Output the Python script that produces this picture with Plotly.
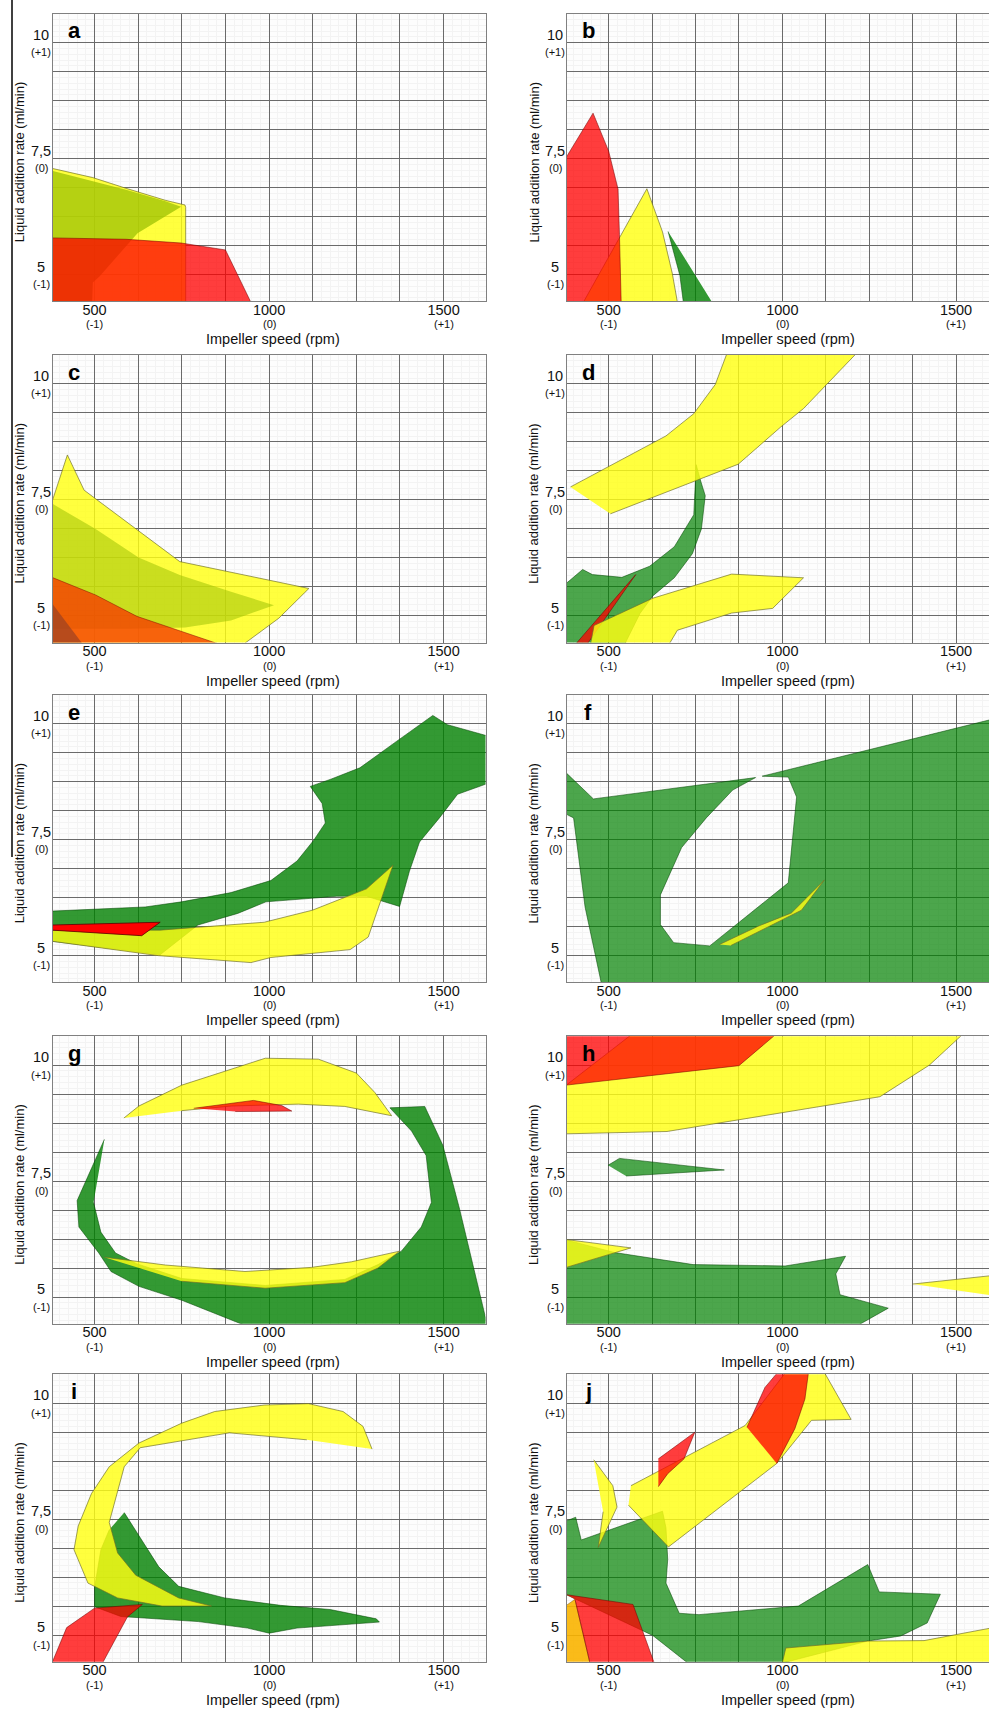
import plotly.graph_objects as go

# ---------------- axis definitions ----------------
x_major_vals = [500, 1000, 1500]
x_major_text = ["500", "1000", "1500"]
x_coded_text = ["(-1)", "(0)", "(+1)"]
y_major_vals = [5, 7.5, 10]
y_major_text = ["5", "7,5", "10"]
y_coded_text = ["(-1)", "(0)", "(+1)"]
x_grid_vals = [500, 625, 750, 875, 1000, 1125, 1250, 1375, 1500]
y_grid_vals = [5, 5.625, 6.25, 6.875, 7.5, 8.125, 8.75, 9.375, 10]
x_title = "Impeller speed (rpm)"
y_title = "Liquid addition rate (ml/min)"
panel_letters = ["a", "b", "c", "d", "e", "f", "g", "h", "i", "j"]

# ---------------- data (rpm, ml/min) ----------------
# panel a
a_yellow_rpm = [378, 495, 590, 703, 759, 761, 761, 378]
a_yellow_rate = [7.29, 7.09, 6.86, 6.60, 6.50, 6.45, 4.4, 4.4]
a_green_rpm = [378, 590, 703, 748, 623, 514, 495, 493, 378]
a_green_rate = [7.24, 6.83, 6.58, 6.46, 5.89, 4.96, 4.83, 4.4, 4.4]
a_red_rpm = [378, 590, 748, 816, 875, 948, 378]
a_red_rate = [5.79, 5.76, 5.68, 5.60, 5.53, 4.4, 4.4]
# panel b
b_yellow_rpm = [427, 610, 655, 683, 698]
b_yellow_rate = [4.4, 6.85, 5.92, 5.03, 4.4]
b_green_rpm = [671, 705, 715, 798]
b_green_rate = [5.93, 4.98, 4.4, 4.4]
b_red_rpm = [378, 455, 500, 527, 531, 536, 378]
b_red_rate = [7.53, 8.48, 7.66, 6.84, 5.86, 4.4, 4.4]
# panel c
c_yellow_rpm = [378, 422, 470, 744, 1114, 1028, 929, 378]
c_yellow_rate = [7.46, 8.47, 7.71, 6.17, 5.59, 4.95, 4.4, 4.4]
c_green_rpm = [378, 503, 626, 744, 891, 1014, 891, 759, 600, 378]
c_green_rate = [7.42, 6.875, 6.26, 5.88, 5.52, 5.23, 4.90, 4.75, 4.72, 4.72]
c_red_rpm = [378, 503, 621, 853, 378]
c_red_rate = [5.83, 5.45, 4.99, 4.4, 4.4]
c_brown_rpm = [378, 465, 378]
c_brown_rate = [5.27, 4.4, 4.4]
# panel d
d_green_rpm = [378, 425, 453, 538, 618, 689, 745, 752, 764, 778, 767, 741, 689, 627, 590, 547, 378]
d_green_rate = [5.70, 6.00, 5.89, 5.83, 6.07, 6.49, 7.18, 8.26, 7.93, 7.59, 6.875, 6.34, 5.82, 5.43, 5.05, 4.4, 4.4]
d_red_rpm = [406, 578, 439]
d_red_rate = [4.4, 5.89, 4.4]
d_yellow_up_rpm = [390, 665, 745, 807, 840, 1212, 1061, 995, 873, 505]
d_yellow_up_rate = [7.78, 8.88, 9.36, 9.99, 10.65, 10.65, 9.47, 9.07, 8.27, 7.20]
d_yellow_low_rpm = [448, 458, 627, 854, 1061, 972, 854, 698, 675]
d_yellow_low_rate = [4.4, 4.79, 5.38, 5.90, 5.82, 5.16, 5.06, 4.69, 4.4]
# panel e
e_green_rpm = [378, 645, 749, 891, 1005, 1080, 1128, 1161, 1152, 1118, 1175, 1260, 1365, 1469, 1511,
               1625, 1625, 1540, 1488, 1431, 1402, 1374, 1279, 1194, 991, 910, 796, 688, 378]
e_green_rate = [5.96, 6.05, 6.16, 6.36, 6.62, 7.04, 7.49, 7.86, 8.28, 8.65, 8.80, 9.05, 9.62, 10.18, 9.98,
                9.74, 8.71, 8.48, 7.97, 7.45, 6.82, 6.06, 6.28, 6.28, 6.16, 5.91, 5.66, 5.02, 5.31]
e_yellow_rpm = [378, 688, 986, 1124, 1279, 1355, 1284, 1232, 1005, 948, 683, 378]
e_yellow_rate = [5.55, 5.55, 5.72, 5.98, 6.44, 6.95, 5.40, 5.13, 4.96, 4.85, 5.00, 5.31]
e_red_rpm = [378, 688, 635, 378]
e_red_rate = [5.66, 5.72, 5.43, 5.55]
# panel f
f_green_rpm = [378, 456, 923, 857, 781, 710, 649, 649, 687, 791, 1017, 1041, 1017, 942, 1600, 1600, 479, 432, 399, 378]
f_green_rate = [8.94, 8.38, 8.84, 8.57, 7.97, 7.33, 6.31, 5.67, 5.28, 5.21, 6.57, 8.42, 8.85, 8.87, 10.09, 4.4, 4.4, 6.05, 7.97, 8.05]
f_yellow_rpm = [819, 932, 1026, 1121, 1055, 852]
f_yellow_rate = [5.24, 5.64, 5.92, 6.63, 5.98, 5.22]
# panel g
g_green_rpm = [528, 450, 455, 512, 547, 627, 750, 927, 1625, 1546, 1498, 1446, 1346, 1408, 1450, 1465, 1436,
               1379, 1312, 1217, 989, 750, 620, 560, 518, 497]
g_green_rate = [8.40, 7.08, 6.51, 5.95, 5.55, 5.23, 4.93, 4.4, 4.4, 6.89, 8.27, 9.11, 9.08, 8.58, 8.05, 7.04, 6.51,
                5.99, 5.70, 5.38, 5.25, 5.40, 5.72, 5.95, 6.40, 7.04]
g_yellow_top_rpm = [584, 627, 750, 989, 1141, 1250, 1303, 1351, 1217, 1084, 893, 750]
g_yellow_top_rate = [8.86, 9.12, 9.57, 10.15, 10.13, 9.83, 9.41, 8.91, 9.11, 9.16, 9.12, 9.02]
g_yellow_low_rpm = [528, 703, 931, 1122, 1236, 1374, 1312, 1217, 989, 750]
g_yellow_low_rate = [5.86, 5.69, 5.55, 5.64, 5.76, 5.99, 5.625, 5.31, 5.19, 5.34]
g_red_rpm = [784, 955, 1036, 1065, 903]
g_red_rate = [9.07, 9.24, 9.13, 9.01, 9.00]
# panel h
h_yellow_rpm = [378, 564, 1517, 1423, 1281, 998, 668, 378]
h_yellow_rate = [9.57, 10.65, 10.65, 10.0, 9.32, 8.98, 8.57, 8.52]
h_red_rpm = [378, 875, 979, 378]
h_red_rate = [9.57, 9.99, 10.65, 10.65]
h_green1_rpm = [498, 531, 833, 550]
h_green1_rate = [7.84, 7.99, 7.74, 7.61]
h_green2_rpm = [378, 517, 743, 1008, 1182, 1154, 1166, 1305, 1220, 378]
h_green2_rate = [6.23, 5.96, 5.70, 5.67, 5.88, 5.50, 5.05, 4.76, 4.4, 4.4]
h_yellow2_rpm = [378, 564, 378]
h_yellow2_rate = [6.24, 6.06, 5.64]
h_yellow3_rpm = [1375, 1600, 1600]
h_yellow3_rate = [5.28, 5.46, 5.04]
# panel i
i_green_rpm = [585, 684, 741, 873, 1033, 1175, 1307, 1316, 1080, 1000, 938, 797, 575, 500, 500, 518, 542]
i_green_rate = [7.64, 6.47, 6.05, 5.80, 5.64, 5.55, 5.35, 5.28, 5.15, 5.04, 5.15, 5.29, 5.40, 5.61, 6.03, 6.84, 7.27]
i_yellow_rpm = [1295, 1269, 1212, 1113, 986, 844, 750, 627, 542, 491, 453, 441, 481, 566, 693, 835,
                741, 618, 566, 542, 585, 631, 886, 1108]
i_yellow_rate = [9.01, 9.50, 9.82, 9.99, 9.96, 9.82, 9.57, 9.14, 8.63, 8.05, 7.35, 6.84, 6.12, 5.80, 5.625, 5.625,
                 5.80, 6.29, 6.77, 7.43, 8.63, 9.04, 9.36, 9.21]
i_red_rpm = [378, 420, 500, 637, 594, 523]
i_red_rate = [4.4, 5.16, 5.58, 5.66, 5.39, 4.4]
# panel j
j_green_rpm = [378, 405, 421, 655, 665, 670, 665, 703, 760, 1046, 1246, 1279, 1455, 1417, 1341, 1246, 1002, 727, 627, 378]
j_green_rate = [7.46, 7.54, 7.05, 7.67, 7.31, 6.63, 6.12, 5.47, 5.44, 5.625, 6.52, 5.93, 5.88, 5.26, 4.98, 4.87, 4.4, 4.4, 4.99, 5.87]
j_yellow_big_rpm = [564, 893, 1008, 1122, 1198, 1084, 984, 672, 557]
j_yellow_big_rate = [8.22, 9.52, 10.65, 10.65, 9.65, 9.63, 8.70, 6.90, 7.80]
j_red_top_rpm = [898, 931, 950, 985, 1075, 1065, 1036, 984]
j_red_top_rate = [9.48, 10.02, 10.34, 10.65, 10.65, 10.09, 9.45, 8.70]
j_red_small_rpm = [643, 748, 717, 670, 643]
j_red_small_rate = [8.80, 9.375, 8.80, 8.48, 8.20]
j_yellow_small_rpm = [457, 512, 524, 470, 484]
j_yellow_small_rate = [8.78, 8.22, 7.76, 6.89, 7.66]
j_yellow_br_rpm = [1000, 1010, 1246, 1408, 1600, 1600]
j_yellow_br_rate = [4.4, 4.72, 4.87, 4.88, 5.15, 4.4]
j_orange_rpm = [378, 403, 446, 378]
j_orange_rate = [5.64, 5.77, 4.4, 4.4]
j_red_low_rpm = [378, 570, 631, 446, 403]
j_red_low_rate = [5.87, 5.66, 4.4, 4.4, 5.77]

# ---------------- styles ----------------
STYLES = {
    "yellow": ("rgba(255,255,20,0.82)", "rgba(110,110,40,0.75)"),
    "green": ("rgba(0,128,0,0.80)", "rgba(0,70,0,0.6)"),
    "green_l": ("rgba(0,128,0,0.70)", "rgba(0,70,0,0.6)"),
    "red": ("rgba(255,0,0,0.76)", "rgba(120,0,0,0.6)"),
    "red_solid": ("rgb(255,0,0)", "rgba(90,0,0,0.9)"),
    "gy_a": ("rgba(150,190,0,0.70)", "rgba(0,0,0,0)"),
    "gy_c": ("rgba(150,190,0,0.50)", "rgba(0,0,0,0)"),
    "red_c": ("rgba(245,60,0,0.80)", "rgba(120,0,0,0.5)"),
    "brown": ("rgba(140,60,40,0.6)", "rgba(0,0,0,0)"),
    "orange": ("rgba(250,180,0,0.9)", "rgba(120,80,0,0.5)"),
}

panels = [
    [(a_yellow_rpm, a_yellow_rate, "yellow"), (a_green_rpm, a_green_rate, "gy_a"), (a_red_rpm, a_red_rate, "red")],
    [(b_yellow_rpm, b_yellow_rate, "yellow"), (b_green_rpm, b_green_rate, "green"), (b_red_rpm, b_red_rate, "red")],
    [(c_yellow_rpm, c_yellow_rate, "yellow"), (c_green_rpm, c_green_rate, "gy_c"), (c_red_rpm, c_red_rate, "red_c"),
     (c_brown_rpm, c_brown_rate, "brown")],
    [(d_green_rpm, d_green_rate, "green_l"), (d_red_rpm, d_red_rate, "red"), (d_yellow_up_rpm, d_yellow_up_rate, "yellow"),
     (d_yellow_low_rpm, d_yellow_low_rate, "yellow")],
    [(e_green_rpm, e_green_rate, "green"), (e_yellow_rpm, e_yellow_rate, "yellow"), (e_red_rpm, e_red_rate, "red_solid")],
    [(f_green_rpm, f_green_rate, "green_l"), (f_yellow_rpm, f_yellow_rate, "yellow")],
    [(g_green_rpm, g_green_rate, "green"), (g_yellow_top_rpm, g_yellow_top_rate, "yellow"),
     (g_yellow_low_rpm, g_yellow_low_rate, "yellow"), (g_red_rpm, g_red_rate, "red")],
    [(h_yellow_rpm, h_yellow_rate, "yellow"), (h_red_rpm, h_red_rate, "red"), (h_green1_rpm, h_green1_rate, "green_l"),
     (h_green2_rpm, h_green2_rate, "green_l"), (h_yellow2_rpm, h_yellow2_rate, "yellow"), (h_yellow3_rpm, h_yellow3_rate, "yellow")],
    [(i_green_rpm, i_green_rate, "green"), (i_yellow_rpm, i_yellow_rate, "yellow"), (i_red_rpm, i_red_rate, "red")],
    [(j_green_rpm, j_green_rate, "green_l"), (j_yellow_big_rpm, j_yellow_big_rate, "yellow"),
     (j_red_top_rpm, j_red_top_rate, "red"), (j_red_small_rpm, j_red_small_rate, "red"),
     (j_yellow_small_rpm, j_yellow_small_rate, "yellow"), (j_yellow_br_rpm, j_yellow_br_rate, "yellow"),
     (j_orange_rpm, j_orange_rate, "orange"), (j_red_low_rpm, j_red_low_rate, "red")],
]

# ---------------- layout geometry (pixels) ----------------
W, H = 989, 1709
col_x = [(52.7, 485.5), (567.0, 989.0)]
col_range = [[380, 1620], [380, 1595]]
col_title_shift = [4, 6]
row_top = [13.7, 355.0, 694.8, 1036.2, 1374.2]
plot_h = 287.5
y_range = [4.425, 10.625]
FONT = "Liberation Sans, Arial, sans-serif"

fig = go.Figure()
layout = dict(width=W, height=H, margin=dict(l=0, r=0, t=0, b=0),
              paper_bgcolor="white", plot_bgcolor="#fdfdfd", showlegend=False,
              font=dict(family=FONT, color="#111"))

x_ticktext = [x_major_text[x_major_vals.index(v)] if v in x_major_vals else "" for v in x_grid_vals]


def txt(**kw):
    d = dict(showarrow=False, font=dict(size=kw.pop("size", 11), family=FONT, color="#111"))
    d.update(kw)
    return d


annotations = []
for p in range(10):
    r, c = p // 2, p % 2
    n = "" if p == 0 else str(p + 1)
    x0, x1 = col_x[c]
    top = row_top[r]
    bot = top + plot_h
    xd = [x0 / W, min(x1 / W, 1.0)]
    yd = [1 - bot / H, 1 - top / H]
    layout["xaxis" + n] = dict(
        domain=xd, anchor="y" + n, range=col_range[c], tickmode="array",
        tickvals=x_grid_vals, ticktext=x_ticktext, showgrid=True, gridcolor="#6a6a6a", gridwidth=1,
        showline=True, linecolor="#808080", linewidth=1, mirror=True, ticks="", zeroline=False,
        tickfont=dict(size=14.5, color="#111"), ticklabelstandoff=-5,
        minor=dict(tickmode="linear", tick0=0, dtick=25, showgrid=True, gridcolor="#f3f3f3", gridwidth=1),
    )
    layout["yaxis" + n] = dict(
        domain=yd, anchor="x" + n, range=y_range, tickmode="array",
        tickvals=y_grid_vals, showticklabels=False, showgrid=True, gridcolor="#6a6a6a", gridwidth=1,
        showline=True, linecolor="#808080", linewidth=1, mirror=(c == 0), ticks="", zeroline=False,
        minor=dict(tickmode="linear", tick0=0, dtick=0.125, showgrid=True, gridcolor="#f3f3f3", gridwidth=1),
    )
    for xs, ys, st in panels[p]:
        fc, lc = STYLES[st]
        fig.add_trace(go.Scatter(x=xs, y=ys, mode="lines", fill="toself", fillcolor=fc,
                                 line=dict(color=lc, width=0.9), hoverinfo="skip",
                                 xaxis="x" + n, yaxis="y" + n))
    xr, yr = "x" + n, "y" + n
    # x coded levels and axis title
    for v, t in zip(x_major_vals, x_coded_text):
        annotations.append(txt(text=t, xref=xr, yref=yr + " domain", x=v, y=0, yshift=-23,
                               xanchor="center", yanchor="middle", size=11))
    annotations.append(txt(text=x_title, xref=xr, yref=yr + " domain", x=1000, y=0, xshift=col_title_shift[c],
                           yshift=-38, xanchor="center", yanchor="middle", size=14.5))
    # y values, coded levels and axis title
    for v, t1, t2 in zip(y_major_vals, y_major_text, y_coded_text):
        annotations.append(txt(text=t1, xref=xr + " domain", yref=yr, x=0, y=v, xshift=-11.7, yshift=8,
                               xanchor="center", yanchor="middle", size=14.5))
        annotations.append(txt(text=t2, xref=xr + " domain", yref=yr, x=0, y=v, xshift=-11.7, yshift=-9.5,
                               xanchor="center", yanchor="middle", size=11))
    annotations.append(txt(text=y_title, xref=xr + " domain", yref=yr + " domain", x=0, y=0.5, xshift=-33,
                           yshift=-5, textangle=-90, xanchor="center", yanchor="middle", size=13))
    annotations.append(dict(text="<b>" + panel_letters[p] + "</b>", xref=xr + " domain", yref=yr + " domain",
                            x=0.05, y=0.94, xanchor="center", yanchor="middle", showarrow=False,
                            font=dict(size=22, family=FONT, color="#000")))

layout["annotations"] = annotations
layout["shapes"] = [dict(type="line", xref="paper", yref="paper", x0=12 / W, x1=12 / W, y0=1, y1=1 - 857 / H,
                         line=dict(color="#000", width=1.5))]
fig.update_layout(**layout)
# remove the browser's default 8px body margin so the figure fills the window exactly; hide the modebar
fig.write_html("out.html",
               config={"displayModeBar": False},
               post_script="document.body.style.margin='0';document.body.style.padding='0';"
                           "document.body.style.overflow='hidden';")
